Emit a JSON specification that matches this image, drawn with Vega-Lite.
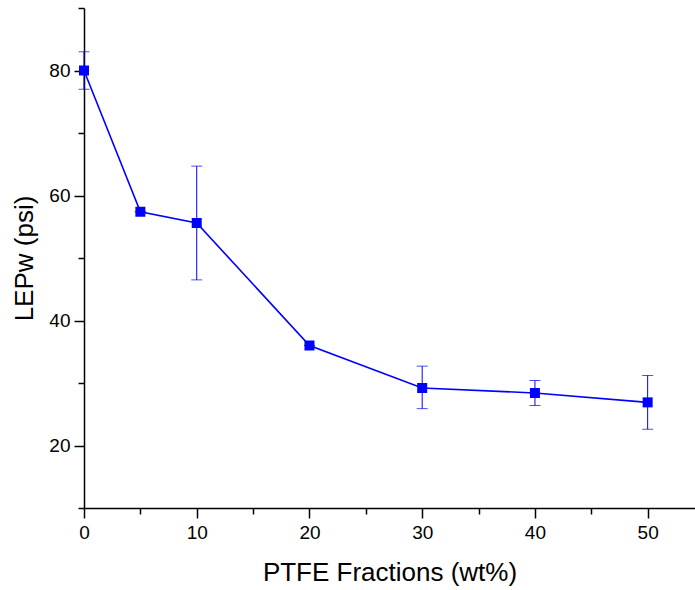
{
  "$schema": "https://vega.github.io/schema/vega-lite/v6.json",
  "width": 611,
  "height": 500,
  "autosize": {"type": "none"},
  "padding": {"left": 84, "top": 8, "right": 0, "bottom": 82},
  "background": "white",
  "config": {
    "view": {"stroke": null},
    "axis": {
      "labelFont": "Liberation Sans",
      "titleFont": "Liberation Sans",
      "labelFontSize": 19,
      "titleFontSize": 26,
      "titleFontWeight": "normal",
      "labelColor": "#000000",
      "titleColor": "#000000",
      "domainColor": "#000000",
      "tickColor": "#000000",
      "domainWidth": 1.5,
      "tickWidth": 1.5,
      "grid": false
    }
  },
  "data": {
    "values": [
      {"x": 0, "y": 80, "lo": 77, "hi": 83},
      {"x": 5, "y": 57.4, "lo": 57.4, "hi": 57.4},
      {"x": 10, "y": 55.6, "lo": 46.5, "hi": 64.7},
      {"x": 20, "y": 36, "lo": 36, "hi": 36},
      {"x": 30, "y": 29.2, "lo": 25.9, "hi": 32.7},
      {"x": 40, "y": 28.4, "lo": 26.4, "hi": 30.4},
      {"x": 50, "y": 26.9, "lo": 22.6, "hi": 31.2}
    ]
  },
  "encoding": {
    "x": {
      "field": "x",
      "type": "quantitative",
      "scale": {"domain": [0, 54.2], "nice": false, "zero": false},
      "axis": {
        "title": "PTFE Fractions (wt%)",
        "values": [0, 5, 10, 15, 20, 25, 30, 35, 40, 45, 50],
        "labelExpr": "datum.value % 10 === 0 ? datum.label : ''",
        "tickSize": {"condition": {"test": "datum.value % 10 === 0", "value": 10}, "value": 6},
        "labelFontSize": 19,
        "titleFontSize": 26,
        "labelPadding": 5,
        "titlePadding": 17,
        "labelFlush": false
      }
    },
    "y": {
      "field": "y",
      "type": "quantitative",
      "scale": {"domain": [10, 90], "nice": false, "zero": false},
      "axis": {
        "title": "LEPw (psi)",
        "values": [10, 20, 30, 40, 50, 60, 70, 80, 90],
        "labelExpr": "datum.value % 20 === 0 ? datum.label : ''",
        "tickSize": {"condition": {"test": "datum.value % 20 === 0", "value": 10}, "value": 6},
        "labelFontSize": 19,
        "titleFontSize": 26,
        "labelPadding": 4,
        "titlePadding": 11,
        "labelFlush": false
      }
    }
  },
  "layer": [
    {
      "mark": {"type": "rule", "color": "#0000ff", "strokeWidth": 1},
      "encoding": {"y": {"field": "lo", "type": "quantitative"}, "y2": {"field": "hi"}}
    },
    {
      "mark": {"type": "tick", "orient": "horizontal", "color": "#0000ff", "size": 11, "thickness": 1},
      "encoding": {"y": {"field": "lo", "type": "quantitative"}}
    },
    {
      "mark": {"type": "tick", "orient": "horizontal", "color": "#0000ff", "size": 11, "thickness": 1},
      "encoding": {"y": {"field": "hi", "type": "quantitative"}}
    },
    {
      "mark": {"type": "line", "color": "#0000ff", "strokeWidth": 1.6},
      "encoding": {}
    },
    {
      "mark": {"type": "point", "shape": "square", "filled": true, "color": "#0000ff", "size": 100, "opacity": 1},
      "encoding": {}
    }
  ]
}
